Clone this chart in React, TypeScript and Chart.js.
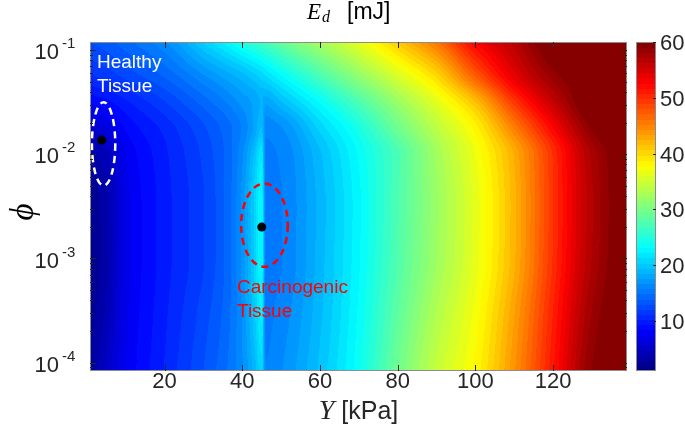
import React, { useEffect, useRef } from 'react';
import { Chart, registerables } from 'chart.js';

Chart.register(...registerables);

// ---- data ----
// Young's modulus columns [kPa]
const Y_KPA = [1, 5, 10, 20, 30, 36, 40, 43, 45, 46, 50, 60, 70, 80, 90, 100, 110, 120, 130, 139];
// log10(phi) rows
const LOG10_PHI = [-4.08, -3.5, -3, -2.5, -2, -1.75, -1.5, -1.25, -0.92];
// E_d [mJ] for each phi row (same order as Y_KPA)
const ED_PHI_M4_08 = [3, 5, 7.5, 10.3, 13, 14.8, 16.6, 18.8, 20.8, 15.8, 16.6, 19.7, 23.8, 29.5, 34.5, 38.2, 44.2, 51.6, 59.2, 61.5];
const ED_PHI_M3_5 = [2.3, 4, 7.2, 10, 12.5, 14.4, 16.8, 20, 22.5, 15.5, 16.1, 19.2, 23.3, 28.5, 33.3, 37.3, 43.3, 50.8, 58.2, 61.3];
const ED_PHI_M3 = [1.8, 3.5, 7, 9.8, 12, 14.2, 17, 20.5, 23, 15.3, 15.7, 19, 23, 27.8, 32.3, 36.5, 42.3, 50, 57.3, 61];
const ED_PHI_M2_5 = [2, 3.5, 7, 9.8, 12, 14.2, 17, 20.5, 23, 15.3, 15.7, 18.9, 22.9, 27.6, 32.1, 36.4, 42.2, 49.8, 57.1, 61];
const ED_PHI_M2 = [3.5, 4.5, 7.5, 10, 12.3, 14.2, 16.5, 19.5, 22, 15.5, 15.9, 19.3, 23.3, 27.5, 32.5, 37, 42.6, 50, 57.5, 61];
const ED_PHI_M1_75 = [5.5, 6.5, 8.5, 10.5, 12.8, 14.4, 15.9, 17.8, 19.5, 16, 16.6, 20.7, 24.6, 29.5, 34, 38.3, 45.3, 52.6, 59.3, 62];
const ED_PHI_M1_5 = [8.5, 9, 10, 12, 14.3, 15.8, 17, 17.8, 18.6, 17.9, 19.3, 23.3, 27.5, 32, 36.3, 41.5, 49.5, 56, 61, 63];
const ED_PHI_M1_25 = [11, 11.5, 12.3, 14, 16.5, 18, 19, 20, 20.8, 21.2, 23, 27.3, 31.5, 35.6, 40, 47.3, 54, 58.6, 61, 63];
const ED_PHI_M0_92 = [13, 13.5, 14.5, 16.5, 20.5, 22.8, 24.8, 26.1, 26.9, 27.2, 29, 32.8, 36.5, 41, 46, 52.8, 56.8, 61, 63, 64];
const ED_ROWS = [ED_PHI_M4_08, ED_PHI_M3_5, ED_PHI_M3, ED_PHI_M2_5, ED_PHI_M2, ED_PHI_M1_75, ED_PHI_M1_5, ED_PHI_M1_25, ED_PHI_M0_92];

// axes
const X_MIN = 0.8;
const X_MAX = 139;
const PHI_MIN = 8.3e-5;
const PHI_MAX = 0.12;
const X_TICKS = [20, 40, 60, 80, 100, 120];
const PHI_TICK_EXPONENTS = [-4, -3, -2, -1];
const CB_MIN = 1;
const CB_MAX = 60;
const CB_TICKS = [10, 20, 30, 40, 50, 60];

// tissue markers
const TISSUE_NAMES = ['Healthy', 'Carcinogenic'];
const TISSUE_Y = [3.8, 45];
const TISSUE_PHI = [0.0137, 0.002];
// dashed ellipses (centre Y, centre log10 phi, half-width kPa, half-height decades)
const ELLIPSE_Y = [4.3, 45.7];
const ELLIPSE_LOGPHI = [-1.9, -2.68];
const ELLIPSE_HALF_Y = [3.0, 6.0];
const ELLIPSE_HALF_DEC = [0.4, 0.4];

const SANS = '"Liberation Sans", Arial, Helvetica, sans-serif';
const SERIF = '"Liberation Serif", "DejaVu Serif", "Times New Roman", serif';
const AXIS_COLOR = '#262626';

function jet(t: number): [number, number, number] {
  const c = (v: number) => Math.max(0, Math.min(1, v));
  return [c(1.5 - Math.abs(4 * t - 3)), c(1.5 - Math.abs(4 * t - 2)), c(1.5 - Math.abs(4 * t - 1))];
}
const NLEV = 64;
function levelColor(v: number): [number, number, number] {
  let idx = Math.floor(((v - CB_MIN) / (CB_MAX - CB_MIN)) * NLEV);
  idx = Math.max(0, Math.min(NLEV - 1, idx));
  const c = jet((idx + 0.5) / NLEV);
  return [Math.round(c[0] * 255), Math.round(c[1] * 255), Math.round(c[2] * 255)];
}

// monotone piecewise cubic (PCHIP) evaluator for drawing the filled field
function pchip(xs: number[], ys: number[]) {
  const n = xs.length;
  const h: number[] = [], del: number[] = [];
  for (let k = 0; k < n - 1; k++) {
    h.push(xs[k + 1] - xs[k]);
    del.push((ys[k + 1] - ys[k]) / h[k]);
  }
  const d: number[] = new Array(n).fill(0);
  d[0] = del[0];
  d[n - 1] = del[n - 2];
  for (let k = 1; k < n - 1; k++) {
    if (del[k - 1] * del[k] <= 0) d[k] = 0;
    else {
      const w1 = 2 * h[k] + h[k - 1];
      const w2 = h[k] + 2 * h[k - 1];
      d[k] = (w1 + w2) / (w1 / del[k - 1] + w2 / del[k]);
    }
  }
  return (x: number) => {
    if (x <= xs[0]) return ys[0];
    if (x >= xs[n - 1]) return ys[n - 1];
    let k = 0;
    while (k < n - 2 && x > xs[k + 1]) k++;
    const t = (x - xs[k]) / h[k];
    const t2 = t * t, t3 = t2 * t;
    return (2 * t3 - 3 * t2 + 1) * ys[k] + (t3 - 2 * t2 + t) * h[k] * d[k] + (-2 * t3 + 3 * t2) * ys[k + 1] + (t3 - t2) * h[k] * d[k + 1];
  };
}

const fieldPlugin = {
  id: 'field',
  beforeDatasetsDraw(chart: any) {
    const { ctx, chartArea, scales } = chart;
    const xs = scales.x, ys = scales.y;
    const w = Math.round(chartArea.right - chartArea.left);
    const h = Math.round(chartArea.bottom - chartArea.top);
    const off = document.createElement('canvas');
    off.width = w; off.height = h;
    const octx = off.getContext('2d')!;
    const img = octx.createImageData(w, h);
    const rowFns = ED_ROWS.map((r) => pchip(Y_KPA, r));
    const lps: number[] = [];
    for (let py = 0; py < h; py++) lps.push(Math.log10(ys.getValueForPixel(chartArea.top + py + 0.5)));
    for (let px = 0; px < w; px++) {
      const yk = xs.getValueForPixel(chartArea.left + px + 0.5);
      const colVals = rowFns.map((f) => f(yk));
      const colFn = pchip(LOG10_PHI, colVals);
      for (let py = 0; py < h; py++) {
        const col = levelColor(colFn(lps[py]));
        const k = (py * w + px) * 4;
        img.data[k] = col[0]; img.data[k + 1] = col[1]; img.data[k + 2] = col[2]; img.data[k + 3] = 255;
      }
    }
    octx.putImageData(img, 0, 0);
    ctx.save();
    ctx.drawImage(off, chartArea.left, chartArea.top);
    ctx.restore();
  },
};

const decorPlugin = {
  id: 'decor',
  afterDraw(chart: any) {
    const { ctx, chartArea, scales } = chart;
    const xs = scales.x, ys = scales.y, cb = scales.cb;
    const { left, right, top, bottom } = chartArea;
    ctx.save();

    // ellipses
    const ellColors = ['#ffffff', '#ff0000'];
    for (let i = 0; i < ELLIPSE_Y.length; i++) {
      const cx = xs.getPixelForValue(ELLIPSE_Y[i]);
      const rx = xs.getPixelForValue(ELLIPSE_Y[i] + ELLIPSE_HALF_Y[i]) - cx;
      const cy = ys.getPixelForValue(Math.pow(10, ELLIPSE_LOGPHI[i]));
      const ry = cy - ys.getPixelForValue(Math.pow(10, ELLIPSE_LOGPHI[i] + ELLIPSE_HALF_DEC[i]));
      ctx.beginPath();
      ctx.setLineDash([7, 5]);
      ctx.lineWidth = 2.5;
      ctx.strokeStyle = ellColors[i];
      ctx.ellipse(cx, cy, rx, ry, 0, 0, Math.PI * 2);
      ctx.stroke();
    }
    ctx.setLineDash([]);

    // annotations
    ctx.font = `19px ${SANS}`;
    ctx.textAlign = 'left';
    ctx.textBaseline = 'alphabetic';
    ctx.fillStyle = '#ffffff';
    ctx.fillText(TISSUE_NAMES[0], 97, 68);
    ctx.fillText('Tissue', 97, 92);
    ctx.fillStyle = '#ff0000';
    ctx.fillText(TISSUE_NAMES[1], 237, 293);
    ctx.fillText('Tissue', 237, 317);

    // axes box
    ctx.strokeStyle = '#8c8c8c';
    ctx.lineWidth = 1;
    ctx.strokeRect(left + 0.5, top + 0.5, right - left - 1, bottom - top - 1);

    // ticks
    ctx.strokeStyle = AXIS_COLOR;
    ctx.beginPath();
    for (const v of X_TICKS) {
      const px = Math.round(xs.getPixelForValue(v)) + 0.5;
      ctx.moveTo(px, bottom); ctx.lineTo(px, bottom - 6);
      ctx.moveTo(px, top); ctx.lineTo(px, top + 6);
    }
    for (let e = -5; e <= 0; e++) {
      for (let k = 1; k <= 9; k++) {
        const v = k * Math.pow(10, e);
        if (v < PHI_MIN || v > PHI_MAX) continue;
        const py = Math.round(ys.getPixelForValue(v)) + 0.5;
        const len = k === 1 ? 6 : 3;
        ctx.moveTo(left, py); ctx.lineTo(left + len, py);
        ctx.moveTo(right, py); ctx.lineTo(right - len, py);
      }
    }
    ctx.stroke();

    // x tick labels
    ctx.fillStyle = AXIS_COLOR;
    ctx.font = `22px ${SANS}`;
    ctx.textAlign = 'center';
    ctx.textBaseline = 'middle';
    for (const v of X_TICKS) ctx.fillText(String(v), xs.getPixelForValue(v), 382);

    // y tick labels 10^e
    for (const e of PHI_TICK_EXPONENTS) {
      const py = ys.getPixelForValue(Math.pow(10, e));
      ctx.font = `22px ${SANS}`;
      ctx.textAlign = 'right';
      ctx.fillText('10', 59, py + 3);
      ctx.font = `15px ${SANS}`;
      ctx.textAlign = 'left';
      ctx.fillText(String(e), 62, py - 6);
    }

    // x title
    ctx.textBaseline = 'alphabetic';
    ctx.textAlign = 'left';
    ctx.font = `italic 28px ${SERIF}`;
    const yW = ctx.measureText('Y').width;
    ctx.font = `25px ${SANS}`;
    const kW = ctx.measureText(' [kPa]').width;
    const xStart = (left + right) / 2 - (yW + kW) / 2;
    ctx.font = `italic 28px ${SERIF}`;
    ctx.fillText('Y', xStart, 419);
    ctx.font = `25px ${SANS}`;
    ctx.fillText(' [kPa]', xStart + yW, 419);

    // title
    ctx.fillStyle = '#000000';
    ctx.font = `italic 23px ${SERIF}`;
    ctx.fillText('E', 307, 19);
    ctx.font = `italic 16px ${SERIF}`;
    ctx.fillText('d', 322, 22);
    ctx.font = `23px ${SANS}`;
    ctx.fillText('[mJ]', 347, 19);

    // y title
    ctx.save();
    ctx.translate(24, 212);
    ctx.rotate(-Math.PI / 2);
    ctx.font = `italic 33px ${SERIF}`;
    ctx.textAlign = 'center';
    ctx.textBaseline = 'middle';
    ctx.fillStyle = '#000000';
    ctx.fillText('\u03D5', 0, 0);
    ctx.restore();

    // colorbar
    const cbL = 636, cbR = 656;
    for (let i = 0; i < NLEV; i++) {
      const v0 = CB_MIN + (i * (CB_MAX - CB_MIN)) / NLEV;
      const v1 = CB_MIN + ((i + 1) * (CB_MAX - CB_MIN)) / NLEV;
      const y0 = cb.getPixelForValue(v0);
      const y1 = cb.getPixelForValue(v1);
      const c = jet((i + 0.5) / NLEV);
      ctx.fillStyle = `rgb(${Math.round(c[0] * 255)},${Math.round(c[1] * 255)},${Math.round(c[2] * 255)})`;
      ctx.fillRect(cbL, Math.floor(y1), cbR - cbL, Math.ceil(y0) - Math.floor(y1));
    }
    ctx.strokeStyle = '#8c8c8c';
    ctx.strokeRect(cbL + 0.5, top + 0.5, cbR - cbL - 1, bottom - top - 1);
    ctx.strokeStyle = AXIS_COLOR;
    ctx.beginPath();
    for (const v of CB_TICKS) {
      const py = Math.round(cb.getPixelForValue(v)) + 0.5;
      ctx.moveTo(cbR, py); ctx.lineTo(cbR - 3, py);
    }
    ctx.stroke();
    ctx.fillStyle = AXIS_COLOR;
    ctx.font = `22px ${SANS}`;
    ctx.textAlign = 'left';
    ctx.textBaseline = 'middle';
    for (const v of CB_TICKS) ctx.fillText(String(v), 660, cb.getPixelForValue(v) + 2);

    ctx.restore();
  },
};

export default function App() {
  const ref = useRef<HTMLCanvasElement>(null);
  useEffect(() => {
    if (!ref.current) return;
    const hidden = {
      grid: { display: false, drawTicks: false },
      border: { display: false },
      ticks: { display: false },
    };
    const chart = new Chart(ref.current, {
      type: 'scatter',
      data: {
        datasets: [
          {
            label: 'Tissue',
            data: TISSUE_Y.map((yv, i) => ({ x: yv, y: TISSUE_PHI[i] })),
            pointRadius: 4.5,
            pointBackgroundColor: '#000000',
            pointBorderColor: '#000000',
            pointBorderWidth: 0,
          },
        ],
      },
      options: {
        animation: false,
        responsive: true,
        maintainAspectRatio: false,
        layout: { padding: { left: 90, top: 42, right: 58, bottom: 56 } },
        plugins: { legend: { display: false }, tooltip: { enabled: false } },
        scales: {
          x: {
            type: 'linear', position: 'bottom', min: X_MIN, max: X_MAX, ...hidden,
            afterBuildTicks: (s: any) => { s.ticks = X_TICKS.map((v) => ({ value: v })); },
          },
          y: {
            type: 'logarithmic', position: 'left', min: PHI_MIN, max: PHI_MAX, ...hidden,
            afterBuildTicks: (s: any) => { s.ticks = PHI_TICK_EXPONENTS.map((e) => ({ value: Math.pow(10, e) })); },
          },
          cb: {
            type: 'linear', position: 'right', min: CB_MIN, max: CB_MAX, ...hidden,
            afterBuildTicks: (s: any) => { s.ticks = CB_TICKS.map((v) => ({ value: v })); },
          },
        },
      } as any,
      plugins: [fieldPlugin, decorPlugin],
    });
    return () => chart.destroy();
  }, []);
  return (
    <div style={{ position: 'absolute', left: 0, top: 0, width: 685, height: 427, background: '#ffffff' }}>
      <canvas ref={ref} />
    </div>
  );
}
